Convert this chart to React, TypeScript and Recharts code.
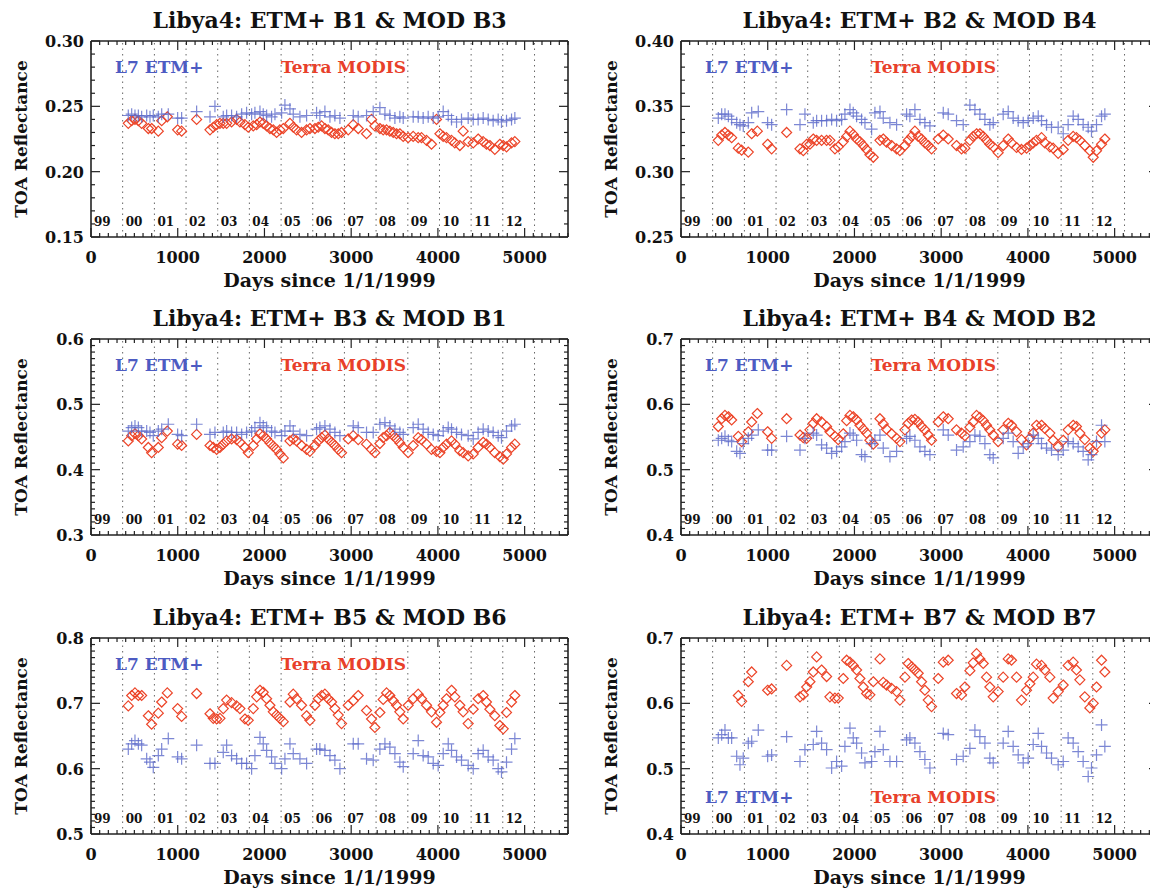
import React from "react";
import { ScatterChart, Scatter, XAxis, YAxis, ReferenceLine } from "recharts";

const FONT = '"DejaVu Serif", "Liberation Serif", serif';
const AXIS = "#222";
const BLUE = "#5b69c9";
const RED = "#ec4428";

// acquisition days, days since 1/1/1999
const etmDays = [
  430, 469, 507, 546, 584, 642, 680, 718, 776, 815,
  891, 999, 1045, 1218, 1372, 1429, 1525, 1564, 1621, 1679,
  1737, 1794, 1852, 1890, 1948, 1986, 2025, 2082, 2121, 2198,
  2236, 2294, 2332, 2409, 2486, 2601, 2639, 2697, 2755, 2812,
  2870, 3024, 3081, 3177, 3254, 3331, 3389, 3446, 3504, 3561,
  3600, 3715, 3773, 3830, 3888, 3946, 4003, 4061, 4119, 4157,
  4215, 4272, 4349, 4407, 4464, 4522, 4580, 4637, 4695, 4733,
  4791, 4849, 4887,
];
const modDays = [
  430, 469, 507, 546, 584, 661, 699, 776, 815, 880,
  999, 1045, 1218, 1372, 1410, 1449, 1487, 1525, 1564, 1621,
  1679, 1717, 1775, 1813, 1871, 1910, 1948, 1986, 2025, 2063,
  2102, 2140, 2178, 2217, 2294, 2332, 2370, 2428, 2486, 2524,
  2582, 2620, 2659, 2697, 2735, 2774, 2812, 2851, 2889, 2966,
  3024, 3081, 3177, 3235, 3273, 3331, 3369, 3408, 3446, 3485,
  3523, 3561, 3600, 3657, 3715, 3773, 3811, 3869, 3926, 3984,
  4023, 4061, 4099, 4157, 4195, 4253, 4291, 4349, 4407, 4464,
  4522, 4560, 4599, 4656, 4714, 4753, 4791, 4849, 4887,
];

// L7 ETM+ TOA reflectance
const etmB1 = [
  0.243, 0.244, 0.243, 0.243, 0.242, 0.243, 0.242, 0.243, 0.242, 0.244,
  0.244, 0.241, 0.241, 0.246, 0.242, 0.250, 0.242, 0.243, 0.243, 0.242,
  0.244, 0.245, 0.244, 0.245, 0.246, 0.244, 0.243, 0.242, 0.244, 0.245,
  0.251, 0.248, 0.244, 0.242, 0.243, 0.245, 0.243, 0.246, 0.242, 0.243,
  0.241, 0.243, 0.242, 0.243, 0.246, 0.249, 0.244, 0.243, 0.241, 0.242,
  0.241, 0.242, 0.242, 0.241, 0.242, 0.241, 0.242, 0.246, 0.243, 0.240,
  0.238, 0.240, 0.241, 0.240, 0.240, 0.241, 0.240, 0.239, 0.240, 0.238,
  0.239, 0.240, 0.241,
];
const etmB2 = [
  0.341, 0.344, 0.344, 0.3425, 0.340, 0.3375, 0.336, 0.335, 0.3375, 0.345,
  0.346, 0.3375, 0.336, 0.3475, 0.336, 0.344, 0.3375, 0.339, 0.339, 0.339,
  0.340, 0.339, 0.340, 0.344, 0.3475, 0.345, 0.3425, 0.340, 0.3375, 0.3325,
  0.345, 0.346, 0.341, 0.3375, 0.336, 0.344, 0.3425, 0.3475, 0.340, 0.3375,
  0.335, 0.345, 0.344, 0.339, 0.336, 0.351, 0.3475, 0.344, 0.340, 0.336,
  0.3375, 0.344, 0.346, 0.341, 0.339, 0.3375, 0.339, 0.341, 0.3425, 0.339,
  0.336, 0.334, 0.334, 0.329, 0.336, 0.3425, 0.340, 0.336, 0.334, 0.331,
  0.336, 0.3425, 0.344,
];
const etmB3 = [
  0.459, 0.4645, 0.467, 0.4645, 0.459, 0.459, 0.457, 0.452, 0.459, 0.462,
  0.4695, 0.454, 0.452, 0.4695, 0.454, 0.457, 0.457, 0.459, 0.457, 0.457,
  0.454, 0.457, 0.459, 0.4645, 0.472, 0.467, 0.4645, 0.459, 0.457, 0.452,
  0.459, 0.467, 0.459, 0.454, 0.452, 0.462, 0.4645, 0.467, 0.462, 0.457,
  0.452, 0.467, 0.4645, 0.457, 0.457, 0.4695, 0.472, 0.467, 0.462, 0.457,
  0.454, 0.4645, 0.4695, 0.462, 0.457, 0.454, 0.452, 0.459, 0.4645, 0.462,
  0.457, 0.454, 0.452, 0.447, 0.457, 0.462, 0.459, 0.457, 0.452, 0.449,
  0.459, 0.467, 0.4695,
];
const etmB4 = [
  0.545, 0.548, 0.551, 0.545, 0.543, 0.528, 0.525, 0.540, 0.548, 0.553,
  0.561, 0.530, 0.530, 0.551, 0.530, 0.548, 0.556, 0.553, 0.538, 0.533,
  0.525, 0.528, 0.535, 0.543, 0.556, 0.553, 0.545, 0.523, 0.520, 0.540,
  0.545, 0.553, 0.533, 0.520, 0.528, 0.548, 0.551, 0.545, 0.535, 0.528,
  0.523, 0.561, 0.553, 0.530, 0.535, 0.543, 0.553, 0.551, 0.540, 0.523,
  0.518, 0.548, 0.556, 0.543, 0.525, 0.535, 0.540, 0.553, 0.548, 0.540,
  0.533, 0.530, 0.523, 0.530, 0.543, 0.540, 0.535, 0.528, 0.515, 0.523,
  0.543, 0.568, 0.543,
];
const etmB5 = [
  0.630, 0.638, 0.643, 0.638, 0.636, 0.615, 0.610, 0.602, 0.620, 0.630,
  0.646, 0.618, 0.615, 0.636, 0.608, 0.608, 0.625, 0.636, 0.620, 0.615,
  0.608, 0.608, 0.600, 0.620, 0.648, 0.638, 0.628, 0.618, 0.608, 0.600,
  0.615, 0.638, 0.623, 0.615, 0.608, 0.630, 0.630, 0.628, 0.620, 0.613,
  0.600, 0.638, 0.638, 0.615, 0.613, 0.630, 0.638, 0.633, 0.623, 0.610,
  0.603, 0.623, 0.643, 0.620, 0.618, 0.608, 0.605, 0.623, 0.638, 0.628,
  0.618, 0.613, 0.605, 0.600, 0.623, 0.628, 0.618, 0.613, 0.600, 0.595,
  0.610, 0.630, 0.646,
];
const etmB7 = [
  0.547, 0.552, 0.559, 0.547, 0.547, 0.519, 0.506, 0.516, 0.539, 0.542,
  0.559, 0.519, 0.521, 0.549, 0.511, 0.529, 0.537, 0.557, 0.539, 0.529,
  0.501, 0.511, 0.504, 0.534, 0.562, 0.547, 0.539, 0.524, 0.509, 0.511,
  0.526, 0.557, 0.529, 0.511, 0.511, 0.544, 0.547, 0.539, 0.526, 0.514,
  0.501, 0.554, 0.552, 0.514, 0.519, 0.531, 0.559, 0.549, 0.539, 0.516,
  0.509, 0.539, 0.557, 0.534, 0.521, 0.509, 0.516, 0.537, 0.554, 0.534,
  0.524, 0.516, 0.506, 0.511, 0.547, 0.539, 0.526, 0.511, 0.488, 0.501,
  0.521, 0.567, 0.534,
];

// Terra MODIS TOA reflectance
const modB3 = [
  0.237, 0.239, 0.240, 0.239, 0.237, 0.233, 0.233, 0.231, 0.239, 0.242,
  0.232, 0.231, 0.240, 0.232, 0.234, 0.236, 0.237, 0.237, 0.237, 0.238,
  0.240, 0.238, 0.236, 0.234, 0.235, 0.236, 0.238, 0.237, 0.235, 0.233,
  0.232, 0.230, 0.232, 0.233, 0.237, 0.234, 0.232, 0.230, 0.232, 0.233,
  0.233, 0.234, 0.235, 0.233, 0.232, 0.230, 0.229, 0.229, 0.230, 0.232,
  0.236, 0.233, 0.229, 0.240, 0.235, 0.233, 0.232, 0.232, 0.231, 0.230,
  0.229, 0.229, 0.227, 0.226, 0.227, 0.226, 0.226, 0.224, 0.221, 0.240,
  0.229, 0.227, 0.226, 0.224, 0.222, 0.220, 0.231, 0.223, 0.222, 0.225,
  0.223, 0.221, 0.220, 0.217, 0.221, 0.220, 0.219, 0.222, 0.223,
];
const modB4 = [
  0.324, 0.328, 0.330, 0.328, 0.326, 0.318, 0.3165, 0.315, 0.329, 0.331,
  0.321, 0.3175, 0.330, 0.3175, 0.316, 0.321, 0.321, 0.325, 0.324, 0.324,
  0.324, 0.324, 0.3175, 0.319, 0.323, 0.327, 0.331, 0.3285, 0.325, 0.323,
  0.320, 0.317, 0.313, 0.311, 0.324, 0.325, 0.3225, 0.320, 0.3175, 0.316,
  0.320, 0.324, 0.327, 0.331, 0.327, 0.325, 0.322, 0.320, 0.3175, 0.325,
  0.328, 0.325, 0.320, 0.3175, 0.318, 0.324, 0.327, 0.329, 0.329, 0.327,
  0.324, 0.321, 0.319, 0.3145, 0.320, 0.325, 0.322, 0.3185, 0.317, 0.318,
  0.320, 0.322, 0.324, 0.326, 0.322, 0.319, 0.318, 0.314, 0.317, 0.324,
  0.327, 0.326, 0.324, 0.320, 0.316, 0.311, 0.316, 0.321, 0.325,
];
const modB1 = [
  0.444, 0.452, 0.455, 0.452, 0.447, 0.434, 0.426, 0.434, 0.449, 0.459,
  0.439, 0.437, 0.454, 0.437, 0.434, 0.431, 0.434, 0.439, 0.444, 0.447,
  0.446, 0.442, 0.434, 0.426, 0.437, 0.447, 0.455, 0.452, 0.447, 0.441,
  0.436, 0.431, 0.424, 0.418, 0.444, 0.447, 0.444, 0.437, 0.431, 0.428,
  0.437, 0.444, 0.449, 0.453, 0.447, 0.442, 0.437, 0.431, 0.426, 0.447,
  0.452, 0.446, 0.439, 0.431, 0.426, 0.440, 0.449, 0.452, 0.457, 0.452,
  0.447, 0.441, 0.434, 0.426, 0.437, 0.449, 0.446, 0.439, 0.431, 0.428,
  0.426, 0.434, 0.439, 0.444, 0.439, 0.429, 0.426, 0.421, 0.424, 0.434,
  0.442, 0.439, 0.434, 0.426, 0.420, 0.416, 0.424, 0.434, 0.439,
];
const modB2 = [
  0.566, 0.578, 0.583, 0.581, 0.576, 0.551, 0.543, 0.558, 0.573, 0.586,
  0.558, 0.548, 0.578, 0.553, 0.549, 0.548, 0.561, 0.571, 0.578, 0.573,
  0.566, 0.558, 0.551, 0.546, 0.555, 0.575, 0.583, 0.581, 0.576, 0.568,
  0.562, 0.556, 0.545, 0.539, 0.578, 0.570, 0.562, 0.555, 0.548, 0.543,
  0.561, 0.571, 0.576, 0.577, 0.573, 0.566, 0.561, 0.553, 0.545, 0.573,
  0.581, 0.578, 0.561, 0.556, 0.552, 0.565, 0.573, 0.583, 0.580, 0.575,
  0.568, 0.561, 0.553, 0.543, 0.561, 0.571, 0.568, 0.558, 0.546, 0.538,
  0.548, 0.556, 0.568, 0.568, 0.563, 0.556, 0.545, 0.535, 0.545, 0.561,
  0.568, 0.566, 0.556, 0.546, 0.533, 0.528, 0.538, 0.556, 0.561,
];
const modB6 = [
  0.696, 0.712, 0.716, 0.712, 0.712, 0.681, 0.668, 0.685, 0.702, 0.716,
  0.692, 0.680, 0.715, 0.684, 0.677, 0.676, 0.677, 0.692, 0.705, 0.701,
  0.696, 0.692, 0.676, 0.674, 0.692, 0.710, 0.720, 0.717, 0.707, 0.697,
  0.687, 0.682, 0.677, 0.672, 0.702, 0.714, 0.707, 0.697, 0.681, 0.674,
  0.697, 0.707, 0.712, 0.714, 0.707, 0.702, 0.692, 0.682, 0.669, 0.697,
  0.704, 0.712, 0.689, 0.676, 0.663, 0.686, 0.706, 0.716, 0.712, 0.704,
  0.697, 0.687, 0.676, 0.697, 0.707, 0.714, 0.707, 0.697, 0.687, 0.671,
  0.686, 0.697, 0.707, 0.720, 0.710, 0.697, 0.687, 0.669, 0.691, 0.707,
  0.712, 0.702, 0.691, 0.681, 0.666, 0.661, 0.686, 0.702, 0.712,
];
const modB7 = [
  null, null, null, null, null, 0.612, 0.603, 0.633, 0.648, null,
  0.620, 0.622, 0.658, 0.610, 0.613, 0.625, 0.633, 0.648, 0.671, 0.651,
  0.641, 0.610, 0.608, 0.608, 0.638, 0.666, 0.663, 0.658, 0.651, 0.638,
  0.625, 0.615, 0.613, 0.633, 0.668, 0.632, 0.628, 0.623, 0.618, 0.605,
  0.640, 0.661, 0.656, 0.651, 0.646, 0.633, 0.620, 0.605, 0.595, 0.638,
  0.663, 0.666, 0.615, 0.613, 0.625, 0.650, 0.662, 0.676, 0.668, 0.661,
  0.640, 0.625, 0.610, 0.618, 0.640, 0.668, 0.666, 0.640, 0.605, 0.620,
  0.630, 0.640, 0.660, 0.658, 0.651, 0.640, 0.608, 0.618, 0.628, 0.658,
  0.663, 0.651, 0.636, 0.610, 0.593, 0.600, 0.625, 0.666, 0.648,
];

const yearStarts = [0, 365, 731, 1096, 1461, 1826, 2192, 2557, 2922, 3287, 3653, 4018, 4383, 4748, 5114];
const yearLabels = ["99", "00", "01", "02", "03", "04", "05", "06", "07", "08", "09", "10", "11", "12", ""];
const xMajor = [0, 1000, 2000, 3000, 4000, 5000];

const W = 580;
const H = 298;
// plot area: left 91, top 41, width 477, height 196
const M = { top: 40, right: 11, bottom: 31, left: 51 };
const XH = 30; // bottom axis band
const YW = 40; // left axis band

const Cross = (p: any) => (
  <path
    d={`M${p.cx - 6},${p.cy}h12M${p.cx},${p.cy - 6}v12`}
    stroke={BLUE}
    strokeOpacity={0.8}
    strokeWidth={1.2}
    fill="none"
  />
);
const Diamond = (p: any) => (
  <path
    d={`M${p.cx},${p.cy - 5}l5,5l-5,5l-5,-5z`}
    stroke={RED}
    strokeWidth={1.2}
    fill="none"
  />
);

const YearTag = (p: any) => {
  const vb = p.viewBox || {};
  return (
    <text
      x={vb.x + 3}
      y={vb.y + vb.height - 11}
      fontSize={12}
      fontWeight="bold"
      fontFamily={FONT}
      fill="#111"
    >
      {p.text}
    </text>
  );
};

const txt = { fontFamily: FONT, fontWeight: "bold" as const, color: "#111" };

function Panel(props: any) {
  const { left, top, title, etm, mod, yMin, yMax, yStep, digits, legendBottom } = props;
  const etmData = etmDays.map((d, i) => ({ x: d, y: etm[i] })).filter((p) => p.y != null);
  const modData = modDays.map((d, i) => ({ x: d, y: mod[i] })).filter((p) => p.y != null);

  const xTicks: number[] = [];
  for (let d = 0; d <= 5500; d += 100) xTicks.push(d);
  const yTicks: number[] = [];
  const n = Math.round((yMax - yMin) / 0.01);
  for (let i = 0; i <= n; i++) yTicks.push(Math.round((yMin + i * 0.01) * 1000) / 1000);
  const isMajorY = (v: number) => Math.abs(v / yStep - Math.round(v / yStep)) < 1e-6;

  const bottomTick = (p: any) => {
    const v = p.payload.value;
    const major = v % 1000 === 0;
    return (
      <g>
        <line x1={p.x} x2={p.x} y1={p.y} y2={p.y - (major ? 9 : 4)} stroke={AXIS} strokeWidth={1.2} />
        {major && xMajor.includes(v) && (
          <text x={p.x} y={p.y + 26} textAnchor="middle" fontSize={16} fontWeight="bold" fontFamily={FONT} fill="#111">
            {v}
          </text>
        )}
      </g>
    );
  };
  const topTick = (p: any) => {
    const major = p.payload.value % 1000 === 0;
    return <line x1={p.x} x2={p.x} y1={p.y} y2={p.y + (major ? 9 : 4)} stroke={AXIS} strokeWidth={1.2} />;
  };
  const leftTick = (p: any) => {
    const v = p.payload.value;
    const major = isMajorY(v);
    return (
      <g>
        <line x1={p.x} x2={p.x + (major ? 9 : 4)} y1={p.y} y2={p.y} stroke={AXIS} strokeWidth={1.2} />
        {major && (
          <text x={p.x - 7} y={p.y + 6} textAnchor="end" fontSize={16} fontWeight="bold" fontFamily={FONT} fill="#111">
            {v.toFixed(digits)}
          </text>
        )}
      </g>
    );
  };
  const rightTick = (p: any) => {
    const major = isMajorY(p.payload.value);
    return <line x1={p.x} x2={p.x - (major ? 9 : 4)} y1={p.y} y2={p.y} stroke={AXIS} strokeWidth={1.2} />;
  };

  const axisLine = { stroke: AXIS, strokeWidth: 1.6 };
  const plotLeft = M.left + YW;
  const plotW = W - plotLeft - M.right - 1;
  const legendTop = legendBottom ? 190 : 57;

  return (
    <div style={{ position: "absolute", left, top, width: W, height: H }}>
      <ScatterChart width={W} height={H} margin={M}>
        <XAxis xAxisId="b" type="number" dataKey="x" domain={[0, 5500]} ticks={xTicks} interval={0}
          tickSize={0} tickMargin={0} height={XH} axisLine={axisLine} tickLine={false} tick={bottomTick} allowDataOverflow />
        <XAxis xAxisId="t" orientation="top" type="number" dataKey="x" domain={[0, 5500]} ticks={xTicks} interval={0}
          tickSize={0} tickMargin={0} height={1} axisLine={axisLine} tickLine={false} tick={topTick} allowDataOverflow />
        <YAxis yAxisId="l" type="number" dataKey="y" domain={[yMin, yMax]} ticks={yTicks} interval={0}
          tickSize={0} tickMargin={0} width={YW} axisLine={axisLine} tickLine={false} tick={leftTick} allowDataOverflow />
        <YAxis yAxisId="r" orientation="right" type="number" dataKey="y" domain={[yMin, yMax]} ticks={yTicks} interval={0}
          tickSize={0} tickMargin={0} width={1} axisLine={axisLine} tickLine={false} tick={rightTick} allowDataOverflow />
        {yearStarts.map((d, i) => (
          <ReferenceLine
            key={d}
            xAxisId="b"
            yAxisId="l"
            x={d}
            stroke={i === 0 ? "none" : "#666"}
            strokeWidth={1}
            strokeDasharray="1.5 4"
            label={<YearTag text={yearLabels[i]} />}
          />
        ))}
        <Scatter xAxisId="b" yAxisId="l" data={modData} shape={Diamond} isAnimationActive={false} />
        <Scatter xAxisId="b" yAxisId="l" data={etmData} shape={Cross} isAnimationActive={false} />
      </ScatterChart>

      <div style={{ ...txt, position: "absolute", left: plotLeft, top: 6, width: plotW, textAlign: "center", fontSize: 22, lineHeight: "28px" }}>
        {title}
      </div>
      <div style={{ ...txt, position: "absolute", left: plotLeft, top: 269, width: plotW, textAlign: "center", fontSize: 19, lineHeight: "22px" }}>
        Days since 1/1/1999
      </div>
      <svg style={{ position: "absolute", left: 0, top: 0 }} width={40} height={H}>
        <text transform={`translate(27,139) rotate(-90)`} textAnchor="middle"
          fontSize={17} fontWeight="bold" fontFamily={FONT} fill="#111">
          TOA Reflectance
        </text>
      </svg>
      <div style={{ ...txt, position: "absolute", left: plotLeft + 24, top: legendTop, fontSize: 17, lineHeight: "20px", color: "#4d5bc2" }}>
        L7 ETM+
      </div>
      <div style={{ ...txt, position: "absolute", left: plotLeft + 190, top: legendTop, fontSize: 17, lineHeight: "20px", color: "#e8402a" }}>
        Terra MODIS
      </div>
    </div>
  );
}

export default function App() {
  return (
    <div style={{ position: "absolute", left: 0, top: 0, width: 1150, height: 894, overflow: "hidden", background: "#fff" }}>
      <Panel left={0} top={0} title="Libya4: ETM+ B1 & MOD B3" etm={etmB1} mod={modB3} yMin={0.15} yMax={0.3} yStep={0.05} digits={2} />
      <Panel left={590} top={0} title="Libya4: ETM+ B2 & MOD B4" etm={etmB2} mod={modB4} yMin={0.25} yMax={0.4} yStep={0.05} digits={2} />
      <Panel left={0} top={298} title="Libya4: ETM+ B3 & MOD B1" etm={etmB3} mod={modB1} yMin={0.3} yMax={0.6} yStep={0.1} digits={1} />
      <Panel left={590} top={298} title="Libya4: ETM+ B4 & MOD B2" etm={etmB4} mod={modB2} yMin={0.4} yMax={0.7} yStep={0.1} digits={1} />
      <Panel left={0} top={597} title="Libya4: ETM+ B5 & MOD B6" etm={etmB5} mod={modB6} yMin={0.5} yMax={0.8} yStep={0.1} digits={1} />
      <Panel left={590} top={597} title="Libya4: ETM+ B7 & MOD B7" etm={etmB7} mod={modB7} yMin={0.4} yMax={0.7} yStep={0.1} digits={1} legendBottom />
    </div>
  );
}
